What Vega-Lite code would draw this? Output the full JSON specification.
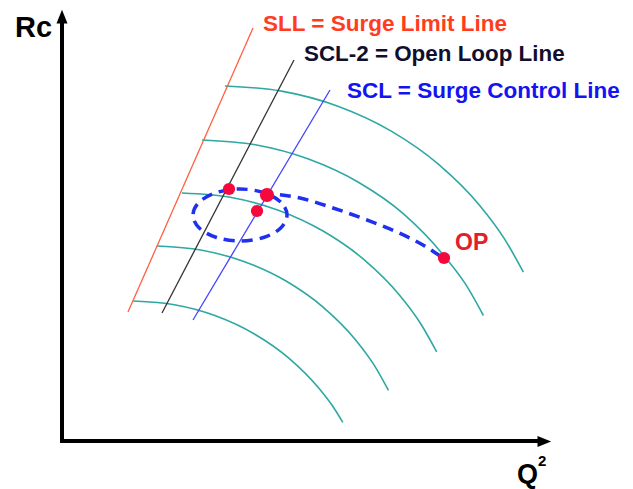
{
  "$schema": "https://vega.github.io/schema/vega-lite/v6.json",
  "width": 633,
  "height": 489,
  "padding": 0,
  "autosize": {"type": "fit", "contains": "padding"},
  "background": "white",
  "config": {"view": {"stroke": null}, "font": "Liberation Sans"},
  "encoding": {
    "x": {"type": "quantitative", "scale": {"domain": [-62, 571], "nice": false, "zero": false}, "axis": null},
    "y": {"type": "quantitative", "scale": {"domain": [-48, 441], "nice": false, "zero": false}, "axis": null}
  },
  "layer": [
    {
      "data": {"values": [
        {"arc": 1, "q": 163, "rc": 355}, {"arc": 1, "q": 219.5, "rc": 349.9}, {"arc": 1, "q": 275.9, "rc": 334.8}, {"arc": 1, "q": 328.8, "rc": 310.1}, {"arc": 1, "q": 376.6, "rc": 276.6}, {"arc": 1, "q": 417.9, "rc": 235.3}, {"arc": 1, "q": 442.3, "rc": 202.4}, {"arc": 1, "q": 461.4, "rc": 168.9},
        {"arc": 2, "q": 140, "rc": 301}, {"arc": 2, "q": 193.3, "rc": 296.2}, {"arc": 2, "q": 246.5, "rc": 281.9}, {"arc": 2, "q": 296.4, "rc": 258.7}, {"arc": 2, "q": 341.5, "rc": 227.1}, {"arc": 2, "q": 380.5, "rc": 187.1}, {"arc": 2, "q": 403.4, "rc": 157.1}, {"arc": 2, "q": 421.4, "rc": 125.5},
        {"arc": 3, "q": 120, "rc": 248}, {"arc": 3, "q": 168.1, "rc": 243.7}, {"arc": 3, "q": 216.3, "rc": 230.8}, {"arc": 3, "q": 261.5, "rc": 209.7}, {"arc": 3, "q": 302.3, "rc": 181.1}, {"arc": 3, "q": 337.6, "rc": 145.8}, {"arc": 3, "q": 358.4, "rc": 117.8}, {"arc": 3, "q": 374.7, "rc": 89.2},
        {"arc": 4, "q": 95, "rc": 195}, {"arc": 4, "q": 138.7, "rc": 191}, {"arc": 4, "q": 182.5, "rc": 179.3}, {"arc": 4, "q": 223.6, "rc": 160.2}, {"arc": 4, "q": 260.7, "rc": 134.2}, {"arc": 4, "q": 292.8, "rc": 102.1}, {"arc": 4, "q": 311.7, "rc": 76.6}, {"arc": 4, "q": 326.5, "rc": 50.6},
        {"arc": 5, "q": 71.3, "rc": 140}, {"arc": 5, "q": 112.4, "rc": 136.3}, {"arc": 5, "q": 153.5, "rc": 125.3}, {"arc": 5, "q": 192, "rc": 107.3}, {"arc": 5, "q": 226.8, "rc": 82.9}, {"arc": 5, "q": 256.9, "rc": 52.8}, {"arc": 5, "q": 269.9, "rc": 36}, {"arc": 5, "q": 280.8, "rc": 18.7}
      ]},
      "mark": {"type": "line", "interpolate": "monotone", "color": "#2EA8A2", "strokeWidth": 1.6},
      "encoding": {"x": {"field": "q"}, "y": {"field": "rc"}, "detail": {"field": "arc", "type": "nominal"}}
    },
    {
      "data": {"values": [
        {"line": "SLL", "q1": 66, "rc1": 129, "q2": 191, "rc2": 413},
        {"line": "SCL-2", "q1": 100, "rc1": 128, "q2": 232, "rc2": 381},
        {"line": "SCL", "q1": 131, "rc1": 121, "q2": 268, "rc2": 351}
      ]},
      "mark": {"type": "rule", "strokeWidth": 1.3},
      "encoding": {
        "x": {"field": "q1"}, "y": {"field": "rc1"}, "x2": {"field": "q2"}, "y2": {"field": "rc2"},
        "color": {"field": "line", "type": "nominal", "scale": {"domain": ["SLL", "SCL-2", "SCL"], "range": ["#FF6040", "#333333", "#4444FF"]}, "legend": null}
      }
    },
    {
      "data": {"values": [
        {"q1": 0, "rc1": 0, "q2": 0, "rc2": 420},
        {"q1": 0, "rc1": 0, "q2": 478, "rc2": 0}
      ]},
      "mark": {"type": "rule", "strokeWidth": 4, "color": "black", "strokeCap": "square"},
      "encoding": {"x": {"field": "q1"}, "y": {"field": "rc1"}, "x2": {"field": "q2"}, "y2": {"field": "rc2"}}
    },
    {
      "data": {"values": [
        {"dir": "up", "q": 0, "rc": 424},
        {"dir": "right", "q": 482, "rc": -0.5}
      ]},
      "mark": {"type": "point", "filled": true, "opacity": 1, "color": "black", "size": 169},
      "encoding": {
        "x": {"field": "q"}, "y": {"field": "rc"},
        "shape": {"field": "dir", "type": "nominal", "scale": {"domain": ["up", "right"], "range": ["M0,-1.1L-0.85,1L0.85,1Z", "M1.1,0L-1,-0.85L-1,0.85Z"]}, "legend": null}
      }
    },
    {
      "data": {"values": [
        {"i": 0, "q": 225, "rc": 226}, {"i": 1, "q": 218.7, "rc": 239}, {"i": 2, "q": 201.5, "rc": 248.5}, {"i": 3, "q": 178, "rc": 252},
        {"i": 4, "q": 154.5, "rc": 248.5}, {"i": 5, "q": 137.3, "rc": 239}, {"i": 6, "q": 131, "rc": 226}, {"i": 7, "q": 137.3, "rc": 213},
        {"i": 8, "q": 154.5, "rc": 203.5}, {"i": 9, "q": 178, "rc": 200}, {"i": 10, "q": 201.5, "rc": 203.5}, {"i": 11, "q": 218.7, "rc": 213}
      ]},
      "mark": {"type": "line", "interpolate": "cardinal-closed", "color": "#1F30EE", "strokeWidth": 3.5, "strokeDash": [11, 7]},
      "encoding": {"x": {"field": "q"}, "y": {"field": "rc"}, "order": {"field": "i"}}
    },
    {
      "data": {"values": [
        {"q": 200, "rc": 248}, {"q": 238, "rc": 243}, {"q": 271, "rc": 233}, {"q": 305, "rc": 221}, {"q": 335, "rc": 209}, {"q": 361, "rc": 196}, {"q": 378, "rc": 185}
      ]},
      "mark": {"type": "line", "interpolate": "monotone", "color": "#1F30EE", "strokeWidth": 3.5, "strokeDash": [11, 7]},
      "encoding": {"x": {"field": "q"}, "y": {"field": "rc"}}
    },
    {
      "data": {"values": [
        {"q": 167, "rc": 252, "s": "a"}, {"q": 205, "rc": 246, "s": "b"}, {"q": 195, "rc": 230, "s": "a"}, {"q": 382, "rc": 183, "s": "a"}
      ]},
      "mark": {"type": "circle", "color": "#F5083C", "opacity": 1},
      "encoding": {"x": {"field": "q"}, "y": {"field": "rc"},
        "size": {"field": "s", "type": "nominal", "scale": {"domain": ["a", "b"], "range": [150, 200]}, "legend": null}}
    },
    {
      "data": {"values": [{"t": "SLL = Surge Limit Line", "q": 201, "rc": 410}]},
      "mark": {"type": "text", "align": "left", "baseline": "alphabetic", "fontSize": 22.5, "fontWeight": "bold", "color": "#FF3C1E"},
      "encoding": {"x": {"field": "q"}, "y": {"field": "rc"}, "text": {"field": "t"}}
    },
    {
      "data": {"values": [{"t": "SCL-2 = Open Loop Line", "q": 242, "rc": 380}]},
      "mark": {"type": "text", "align": "left", "baseline": "alphabetic", "fontSize": 22.4, "fontWeight": "bold", "color": "#10102E"},
      "encoding": {"x": {"field": "q"}, "y": {"field": "rc"}, "text": {"field": "t"}}
    },
    {
      "data": {"values": [{"t": "SCL = Surge Control Line", "q": 285, "rc": 343}]},
      "mark": {"type": "text", "align": "left", "baseline": "alphabetic", "fontSize": 22.5, "fontWeight": "bold", "color": "#1414F0"},
      "encoding": {"x": {"field": "q"}, "y": {"field": "rc"}, "text": {"field": "t"}}
    },
    {
      "data": {"values": [{"t": "OP", "q": 393, "rc": 191}]},
      "mark": {"type": "text", "align": "left", "baseline": "alphabetic", "fontSize": 23, "fontWeight": "bold", "color": "#E2202C"},
      "encoding": {"x": {"field": "q"}, "y": {"field": "rc"}, "text": {"field": "t"}}
    },
    {
      "data": {"values": [{"t": "Rc", "q": -47, "rc": 404}]},
      "mark": {"type": "text", "align": "left", "baseline": "alphabetic", "fontSize": 29, "fontWeight": "bold", "color": "black", "letterSpacing": -1},
      "encoding": {"x": {"field": "q"}, "y": {"field": "rc"}, "text": {"field": "t"}}
    },
    {
      "data": {"values": [{"t": "Q", "q": 455, "rc": -42}]},
      "mark": {"type": "text", "align": "left", "baseline": "alphabetic", "fontSize": 27, "fontWeight": "bold", "color": "black"},
      "encoding": {"x": {"field": "q"}, "y": {"field": "rc"}, "text": {"field": "t"}}
    },
    {
      "data": {"values": [{"t": "2", "q": 476, "rc": -24.5}]},
      "mark": {"type": "text", "align": "left", "baseline": "alphabetic", "fontSize": 15, "fontWeight": "bold", "color": "black"},
      "encoding": {"x": {"field": "q"}, "y": {"field": "rc"}, "text": {"field": "t"}}
    }
  ]
}
